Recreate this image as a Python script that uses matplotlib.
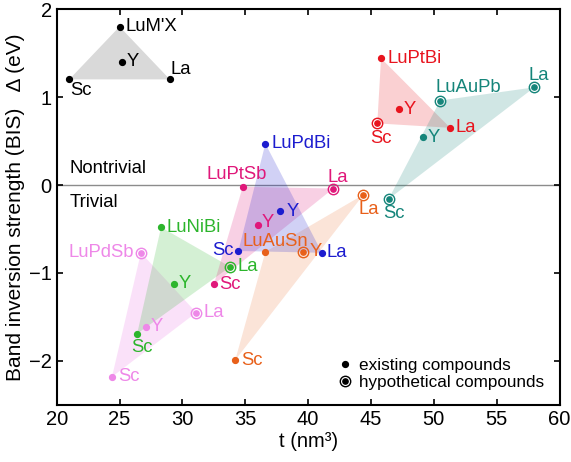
import matplotlib.pyplot as plt
from matplotlib.lines import Line2D

plt.rcParams['font.family'] = ['Liberation Sans', 'DejaVu Sans']

# point order in every family: [Lu compound, Y, Sc, La]
ELEMENTS = ["Y", "Sc", "La"]

# schematic triangle (top left)
LUMX_T = [25.0, 25.2, 21.0, 29.0]
LUMX_D = [1.80, 1.40, 1.20, 1.20]
LUMX_HYP = [0, 0, 0, 0]

LUPTBI_T = [45.8, 47.2, 45.5, 51.3]
LUPTBI_D = [1.44, 0.86, 0.70, 0.65]
LUPTBI_HYP = [0, 0, 1, 0]

LUAUPB_T = [50.5, 49.1, 46.4, 58.0]
LUAUPB_D = [0.96, 0.54, -0.16, 1.11]
LUAUPB_HYP = [1, 0, 1, 1]

LUPDBI_T = [36.6, 37.8, 34.45, 41.1]
LUPDBI_D = [0.47, -0.30, -0.75, -0.77]
LUPDBI_HYP = [0, 0, 0, 0]

LUPTSB_T = [34.8, 36.0, 32.5, 42.0]
LUPTSB_D = [-0.02, -0.45, -1.13, -0.04]
LUPTSB_HYP = [0, 0, 0, 1]

LUAUSN_T = [36.6, 39.6, 34.2, 44.4]
LUAUSN_D = [-0.76, -0.76, -1.99, -0.11]
LUAUSN_HYP = [0, 1, 0, 1]

LUNIBI_T = [28.3, 29.3, 26.4, 33.8]
LUNIBI_D = [-0.48, -1.12, -1.69, -0.93]
LUNIBI_HYP = [0, 0, 0, 1]

LUPDSB_T = [26.7, 27.1, 24.4, 31.1]
LUPDSB_D = [-0.77, -1.61, -2.18, -1.45]
LUPDSB_HYP = [1, 0, 0, 1]

X_TICKS = [20, 25, 30, 35, 40, 45, 50, 55, 60]
Y_TICKS = [-2, -1, 0, 1, 2]

# name, t, delta, hypothetical, point colour, fill alpha,
# label offsets in pixels (dx, dy, ha) for each point
families = [
    ("LuM'X", LUMX_T, LUMX_D, LUMX_HYP, "black", 0.15,
     [(6, 0, 'left'), (5, 0, 'left'), (1, -11, 'left'), (1, 10, 'left')]),
    ("LuPdSb", LUPDSB_T, LUPDSB_D, LUPDSB_HYP, "#ee88e8", 0.25,
     [(-7, 0, 'right'), (5, 0, 'left'), (6, 0, 'left'), (7, 0, 'left')]),
    ("LuNiBi", LUNIBI_T, LUNIBI_D, LUNIBI_HYP, "#2cb52c", 0.2,
     [(5, 0, 'left'), (5, 0, 'left'), (5, -14, 'center'), (7, 0, 'left')]),
    ("LuAuSn", LUAUSN_T, LUAUSN_D, LUAUSN_HYP, "#e8601a", 0.17,
     [(10, 10, 'center'), (7, 0, 'left'), (6, 0, 'left'), (5, -15, 'center')]),
    ("LuPtSb", LUPTSB_T, LUPTSB_D, LUPTSB_HYP, "#e0187a", 0.2,
     [(-6, 12, 'center'), (4, 2, 'left'), (5, 0, 'left'), (4, 11, 'center')]),
    ("LuPdBi", LUPDBI_T, LUPDBI_D, LUPDBI_HYP, "#1c1ccf", 0.2,
     [(6, 0, 'left'), (6, 0, 'left'), (-5, 0, 'right'), (5, 0, 'left')]),
    ("LuPtBi", LUPTBI_T, LUPTBI_D, LUPTBI_HYP, "#e8141e", 0.2,
     [(6, 0, 'left'), (5, 0, 'left'), (4, -15, 'center'), (5, 0, 'left')]),
    ("LuAuPb", LUAUPB_T, LUAUPB_D, LUAUPB_HYP, "#15857a", 0.2,
     [(-5, 13, 'left'), (5, 0, 'left'), (5, -14, 'center'), (4, 12, 'center')]),
]

fig, ax = plt.subplots(figsize=(5.71, 4.62), dpi=100)
fig.subplots_adjust(left=0.0993, right=0.98, bottom=0.1234, top=0.9805)

ax.axhline(0, color="#8c8c8c", linewidth=1.0, zorder=1)

for name, ts, ds, hyp, color, falpha, offsets in families:
    # triangle spanned by Lu compound, Sc and La
    tri = [0, 2, 3]
    ax.fill([ts[i] for i in tri], [ds[i] for i in tri],
            color=color, alpha=falpha, linewidth=0, zorder=2)

    labels = [name] + ELEMENTS
    for i in range(4):
        if hyp[i]:
            ax.plot(ts[i], ds[i], marker='o', ms=7.5, mfc='none', mec=color,
                    mew=1.0, ls='', zorder=4)
            ax.plot(ts[i], ds[i], marker='o', ms=3.8, color=color, ls='', zorder=5)
        else:
            ax.plot(ts[i], ds[i], marker='o', ms=4.2, color=color, ls='', zorder=5)
        dx, dy, ha = offsets[i]
        ax.annotate(labels[i], (ts[i], ds[i]), xytext=(dx, dy),
                    textcoords='offset pixels', ha=ha, va='center',
                    color=color, fontsize=13.3, zorder=6)

ax.text(21.0, 0.19, "Nontrivial", fontsize=13.3, va='center', ha='left')
ax.text(21.0, -0.2, "Trivial", fontsize=13.3, va='center', ha='left')

# legend
h_exist = Line2D([], [], marker='o', ms=4.2, color='black', ls='')
h_ring = Line2D([], [], marker='o', ms=7.5, mfc='none', mec='black', mew=1.0, ls='')
h_dot = Line2D([], [], marker='o', ms=3.8, color='black', ls='')
ax.legend([h_exist, (h_ring, h_dot)], ["existing compounds", "hypothetical compounds"],
          loc='lower right', frameon=False, fontsize=12.3, handlelength=1.0,
          handletextpad=0.3, labelspacing=0.1, borderaxespad=0.5)

ax.set_xlim(20, 60)
ax.set_ylim(-2.5, 2)
ax.set_xticks(X_TICKS)
ax.set_yticks(Y_TICKS)
ax.tick_params(direction='in', top=True, right=True, labelsize=14.5, length=4, width=1.2)
for sp in ax.spines.values():
    sp.set_linewidth(1.5)

ax.set_xlabel("t (nm³)", fontsize=14.5, labelpad=2)
ax.set_ylabel("Band inversion strength (BIS)   Δ (eV)", fontsize=15, labelpad=3)

fig.savefig("out.png", dpi=100)
